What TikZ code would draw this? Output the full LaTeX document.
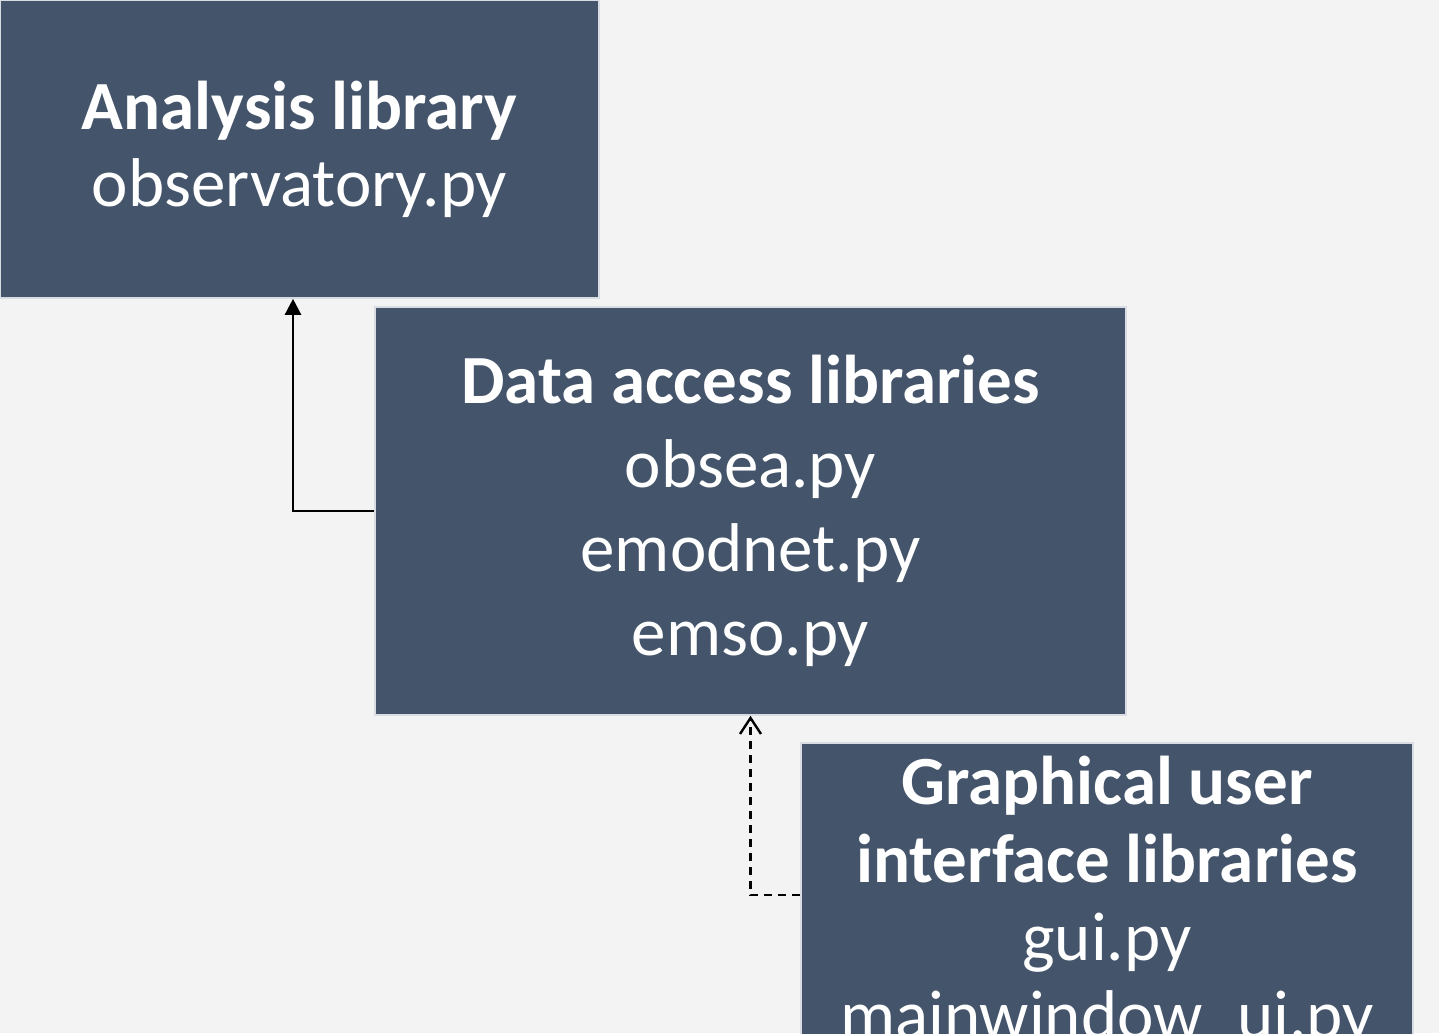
\documentclass[tikz,border=0pt]{standalone}
\usepackage{fontspec}
\setmainfont{Carlito}
\usetikzlibrary{arrows.meta}
\definecolor{boxfill}{HTML}{44546A}
\definecolor{bgcol}{HTML}{F3F3F3}
\definecolor{boxedge}{HTML}{D9DDE3}
\begin{document}
\begin{tikzpicture}[x=0.5pt,y=-0.5pt,
  box/.style={fill=boxfill, draw=boxedge, line width=0.8pt, text=white, align=center, inner sep=0pt},
  conn/.style={line width=1.2pt, black}]
\useasboundingbox (0,0) rectangle (1439,1033);
\clip (0,0) rectangle (1439,1033);
\fill[bgcol] (0,0) rectangle (1439,1033);
\node[box, minimum width=299.5pt, minimum height=149pt, font=\fontsize{34.5}{38.5}\selectfont] (b1) at (299.5,149)
  {\textbf{Analysis library}\\observatory.py};
\node[box, minimum width=375.5pt, minimum height=204pt, font=\fontsize{34.5}{42}\selectfont] (b2) at (750.5,511)
  {\textbf{Data access libraries}\\obsea.py\\emodnet.py\\emso.py};
\node[box, minimum width=306pt, minimum height=160pt, font=\fontsize{34.5}{39}\selectfont] (b3) at (1107,903)
  {\textbf{Graphical user}\\\textbf{interface libraries}\\gui.py\\mainwindow\_ui.py};
\draw[conn, -{Triangle[length=8pt,width=8pt]}] (b2.west) -| ([xshift=-3.25pt]b1.south);
\draw[conn, dash pattern=on 4pt off 3pt, -{Straight Barb[length=8pt,width=10.5pt]}] ([yshift=4pt]b3.west) -| (b2.south);
\end{tikzpicture}
\end{document}
